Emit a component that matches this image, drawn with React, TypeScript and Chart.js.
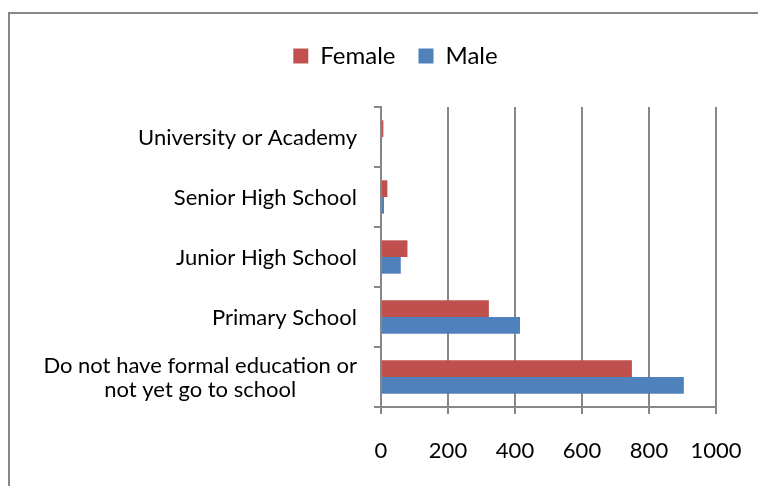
import React, { useEffect, useRef } from "react";
import { Chart, registerables } from "chart.js";

Chart.register(...registerables);

const categories: string[][] = [
  ["University or Academy"],
  ["Senior High School"],
  ["Junior High School"],
  ["Primary School"],
  ["Do not have formal education or", "not yet go to school"],
];
const femaleValues = [7, 19, 79, 322, 749];
const maleValues = [1, 9, 59, 415, 904];
const xTicks = [0, 200, 400, 600, 800, 1000];

const FONT = "Lato, 'Open Sans', sans-serif";
const GRID = "#878787";

const yLabelPlugin = {
  id: "yLabels",
  afterDraw(chart: any) {
    const ctx = chart.ctx;
    const ys = chart.scales.y;
    const right = chart.chartArea.left - 24;
    ctx.save();
    ctx.font = `22px ${FONT}`;
    ctx.fillStyle = "#000";
    ctx.textBaseline = "middle";
    ctx.textAlign = "center";
    const lh = 24.5;
    categories.forEach((lines, i) => {
      const cy = ys.getPixelForTick(i);
      const w = Math.max(...lines.map((l) => ctx.measureText(l).width));
      const cx = right - w / 2;
      lines.forEach((line, j) => {
        ctx.fillText(line, cx, cy + (j - (lines.length - 1) / 2) * lh + 1);
      });
    });
    ctx.restore();
  },
};

export default function App() {
  const ref = useRef<HTMLCanvasElement>(null);
  useEffect(() => {
    if (!ref.current) return;
    const chart = new Chart(ref.current, {
      type: "bar",
      data: {
        labels: categories.map((c) => c.join(" ")),
        datasets: [
          { label: "Female", data: femaleValues, backgroundColor: "#C0504D", categoryPercentage: 0.556, barPercentage: 1 },
          { label: "Male", data: maleValues, backgroundColor: "#4F81BD", categoryPercentage: 0.556, barPercentage: 1 },
        ],
      },
      options: {
        indexAxis: "y",
        animation: false,
        responsive: false,
        layout: { padding: { top: 21, right: 42, bottom: 0, left: 75 } },
        plugins: {
          legend: {
            position: "top",
            labels: {
              boxWidth: 15,
              boxHeight: 15,
              padding: 23,
              color: "#000",
              font: { family: FONT, size: 24 },
            },
          },
          title: {
            display: true,
            text: " ",
            weight: 500,
            font: { size: 1, lineHeight: 1 },
            padding: { top: 0, bottom: 28 },
          },
          tooltip: { enabled: false },
        },
        scales: {
          x: {
            type: "linear",
            min: 0,
            max: 1000,
            afterBuildTicks: (s: any) => {
              s.ticks = xTicks.map((v) => ({ value: v }));
            },
            afterFit: (s: any) => {
              s.height = 79;
              s.paddingLeft = 0;
              s.paddingRight = 0;
            },
            grid: { color: GRID, lineWidth: 2, tickLength: 7, drawTicks: true },
            border: { color: GRID, width: 2 },
            ticks: {
              color: "#000",
              font: { family: FONT, size: 22 },
              padding: 24,
              maxRotation: 0,
              callback: (v: any) => String(v),
            },
          },
          y: {
            type: "category",
            afterFit: (s: any) => {
              s.width = 381 - 75;
            },
            grid: { drawOnChartArea: false, color: GRID, lineWidth: 2, tickLength: 7, offset: true },
            border: { color: GRID, width: 2 },
            ticks: { display: false },
          },
        },
      },
      plugins: [yLabelPlugin],
    });
    return () => chart.destroy();
  }, []);
  return (
    <div style={{ position: "fixed", left: 0, top: 0, width: 758, height: 486, overflow: "hidden", background: "#fff" }}>
      <div
        style={{
          position: "absolute",
          left: 8,
          top: 12,
          width: 820,
          height: 520,
          border: `2px solid ${GRID}`,
          boxSizing: "border-box",
        }}
      />
      <canvas ref={ref} width={758} height={486} style={{ position: "absolute", left: 0, top: 0 }} />
    </div>
  );
}
